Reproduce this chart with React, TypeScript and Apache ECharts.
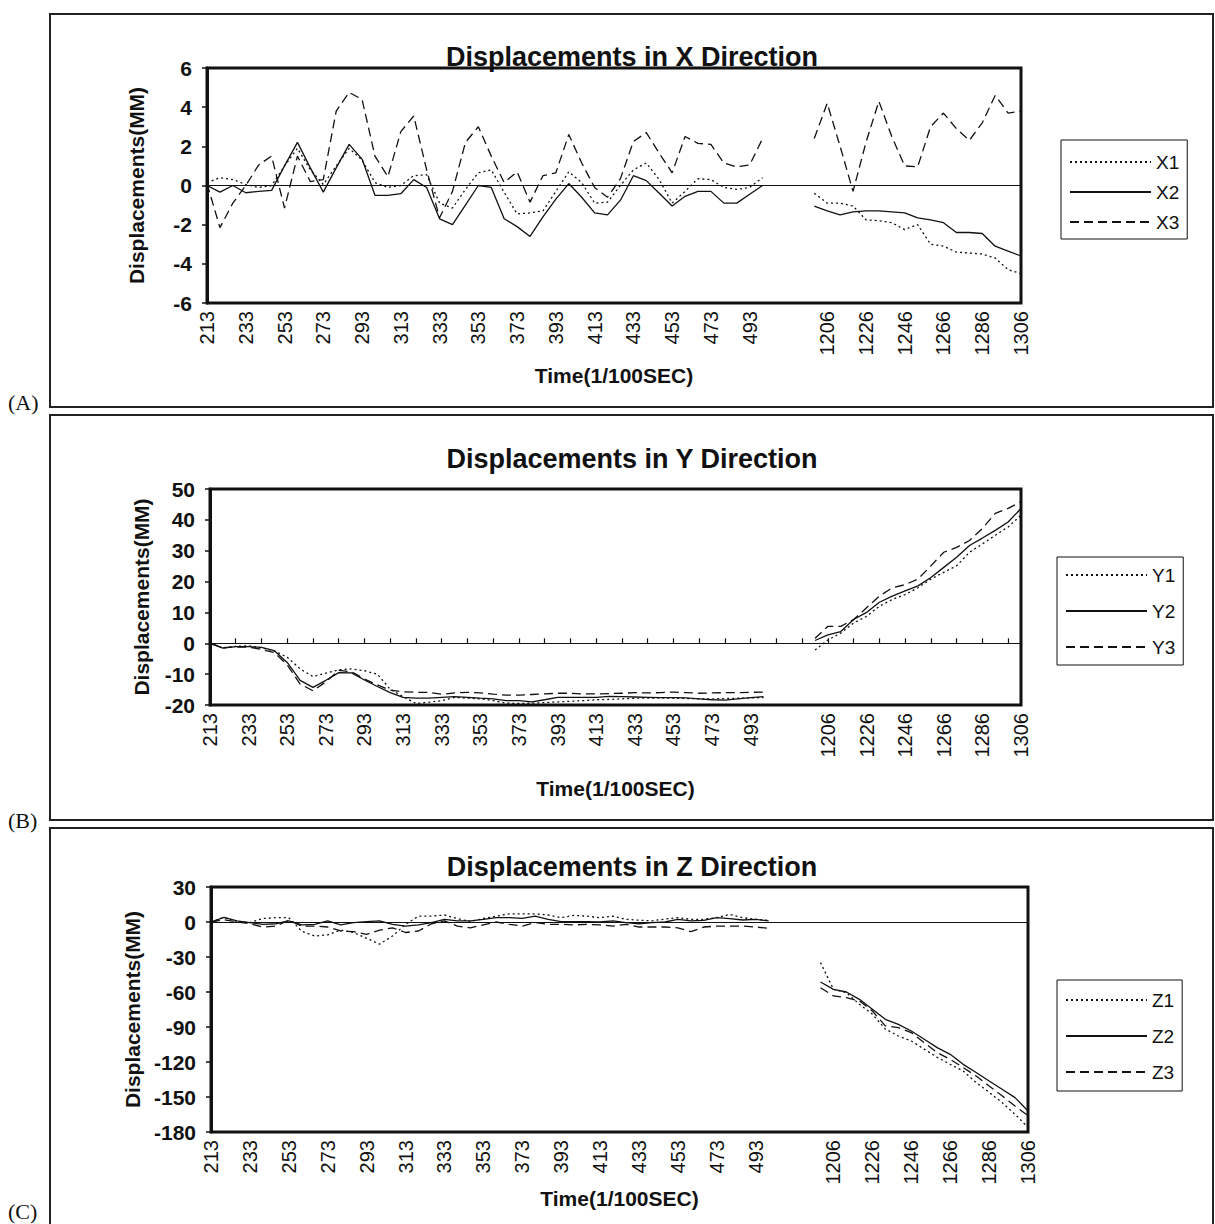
import React, { useEffect, useRef } from 'react';
import * as echarts from 'echarts';

const FONT = '"Liberation Sans", Arial, Helvetica, sans-serif';
const INK = '#111';

// Category axis (time, 1/100 s). Labels shown on every 3rd category.
const TIME_LEFT = ['213', '220', '226', '233', '240', '246', '253', '260', '266', '273', '280', '286', '293', '300', '306', '313', '320', '326', '333', '340', '346', '353', '360', '366', '373', '380', '386', '393', '400', '406', '413', '420', '426', '433', '440', '446', '453', '460', '466', '473', '480', '486', '493', '500'];
const TIME_GAP = ['', '', ''];
const TIME_RIGHT = ['1200', '1206', '1213', '1220', '1226', '1233', '1240', '1246', '1253', '1260', '1266', '1273', '1280', '1286', '1293', '1300', '1306'];

// X direction
const X1_LEFT = [0.15, 0.4, 0.3, 0.05, -0.1, 0.0, 1.0, 1.9, 0.8, 0.05, 1.0, 1.9, 1.3, 0.15, -0.1, 0.0, 0.5, 0.55, -0.9, -1.15, -0.2, 0.65, 0.8, -0.35, -1.45, -1.4, -1.3, -0.3, 0.7, 0.15, -0.9, -0.85, 0.0, 0.8, 1.15, 0.3, -0.9, -0.3, 0.35, 0.3, -0.1, -0.2, -0.1, 0.4];
const X2_LEFT = [0, -0.34, 0, -0.37, -0.3, -0.25, 1.0, 2.2, 0.9, -0.34, 0.9, 2.1, 1.35, -0.5, -0.5, -0.42, 0.3, -0.1, -1.7, -2.0, -1.0, 0.0, -0.1, -1.7, -2.1, -2.6, -1.6, -0.7, 0.1, -0.6, -1.4, -1.5, -0.75, 0.5, 0.25, -0.4, -1.05, -0.55, -0.3, -0.3, -0.9, -0.9, -0.45, 0.0];
const X3_LEFT = [0.1, -2.15, -0.9, 0.0, 1.05, 1.5, -1.15, 1.5, 0.2, 0.3, 3.8, 4.75, 4.4, 1.5, 0.45, 2.75, 3.55, 0.8, -1.65, -0.3, 2.2, 3.0, 1.5, 0.15, 0.7, -0.85, 0.5, 0.65, 2.6, 1.15, -0.1, -0.6, 0.35, 2.25, 2.7, 1.65, 0.65, 2.5, 2.15, 2.1, 1.15, 0.95, 1.05, 2.4];
const X1_RIGHT = [-0.4, -0.9, -0.9, -1.05, -1.75, -1.8, -1.9, -2.25, -2.0, -3.0, -3.1, -3.4, -3.45, -3.5, -3.7, -4.3, -4.5];
const X2_RIGHT = [-1.05, -1.3, -1.5, -1.35, -1.3, -1.3, -1.35, -1.4, -1.65, -1.75, -1.9, -2.4, -2.4, -2.45, -3.1, -3.35, -3.6];
const X3_RIGHT = [2.4, 4.2, 2.0, -0.3, 2.2, 4.3, 2.5, 1.0, 0.95, 3.0, 3.7, 2.9, 2.3, 3.2, 4.6, 3.7, 3.8];

// Y direction
const Y1_LEFT = [0, -1.5, -1, -0.8, -1.5, -2.5, -4.5, -8.3, -10.8, -9.7, -8.6, -8.3, -8.9, -10, -14.9, -17.3, -19.5, -19.1, -18.6, -17.5, -17.8, -18, -18.6, -19.4, -19.5, -19.4, -19.2, -19, -18.8, -18.6, -18.3, -18.2, -18.0, -17.8, -17.8, -17.7, -17.8, -17.9, -18.0, -18.0, -17.9, -17.8, -17.7, -17.6];
const Y2_LEFT = [0, -1.6, -1.1, -1.1, -1.3, -2.4, -6.2, -12, -14.3, -12, -9.5, -9.6, -11.9, -14, -16, -17.5, -17.8, -17.8, -17.5, -17.3, -17.5, -17.8, -18, -18.6, -18.6, -19, -18.3, -17.5, -17.5, -17.5, -17.5, -17.2, -17.3, -17.4, -17.5, -17.6, -17.6, -17.7, -18.0, -18.3, -18.4, -18.0, -17.6, -17.3];
const Y3_LEFT = [0, -1.4, -1.2, -1.2, -2, -3, -7, -13.2, -15.4, -12.5, -8.8, -9.2, -11.6, -13.5, -15.2, -15.7, -15.9, -15.9, -16.5, -16.1, -15.9, -16.1, -16.5, -16.8, -16.8, -16.6, -16.4, -16.2, -16.2, -16.4, -16.4, -16.3, -16.2, -16.0, -16.1, -16.0, -15.8, -16.0, -16.2, -16.1, -16.0, -16.0, -15.9, -15.8];
const Y1_RIGHT = [-2.2, 1.1, 3.3, 6.6, 8.7, 12, 14.2, 15.8, 18, 20.8, 23, 25.1, 29.5, 32.2, 35, 37.7, 41.5];
const Y2_RIGHT = [0.9, 2.7, 3.8, 7.7, 10, 13.3, 15.3, 17, 18.6, 21.3, 24.6, 27.9, 31.7, 34.1, 36.6, 39.3, 43.7];
const Y3_RIGHT = [1.6, 5.5, 5.5, 7.7, 11.5, 15.3, 18, 19, 20.8, 25.1, 29.5, 31.1, 33.3, 37.2, 42.1, 43.7, 45.9];

// Z direction
const Z1_LEFT = [0, 4, 0.3, -0.5, 3, 3.7, 3.7, -8, -12, -11, -7, -9, -14, -19, -12, -2, 5, 5, 6, 3, 0.3, 3, 5, 7, 7, 7, 6, 3.7, 5.7, 5, 3.7, 5, 2.3, 1.5, 1.0, 2.5, 3.7, 2.3, 2.3, 3.7, 6.6, 3.7, 2.3, 1.4];
const Z2_LEFT = [0, 4, 1, -0.5, -2, -1.5, 1, -2.5, -2, 1, -2.5, -0.5, 0.3, 1, -2, -3.5, -2.5, -0.5, 2.3, 1, 1, 2.3, 3.7, 3.7, 3.1, 5.1, 2.3, 0.3, 0.3, 0.3, 0, 1, -0.5, -1.5, -0.5, 0, 2.3, 1, 1.4, 3.7, 2.9, 1.7, 2.3, 1];
const Z3_LEFT = [0, 2, 0, -1.5, -4.3, -3.5, 1.5, -3.5, -3.5, -4.3, -7.7, -8.3, -10.6, -7, -5, -9, -7.7, -1.5, 1, -3.5, -5, -2.5, 0, -2, -3.5, -0.5, -2, -2, -2.5, -2, -2.5, -3.5, -2, -4.3, -4.3, -4.3, -5, -8.3, -4.3, -3.5, -3.5, -3.5, -4.3, -5.4];
const Z1_RIGHT = [-34.8, -57.7, -60.6, -70.5, -79, -91.7, -97.7, -102, -109, -116, -122, -127.7, -137.6, -146, -154.8, -164.8, -176];
const Z2_RIGHT = [-51.4, -57.7, -60, -66.3, -74.8, -83.4, -87.7, -93.4, -100.5, -107.7, -113.4, -122, -129, -136.3, -143.4, -150.5, -162];
const Z3_RIGHT = [-56.3, -63.4, -64.8, -67.7, -76.3, -89, -90.5, -94.8, -103.4, -112, -117.7, -124.8, -132, -140.6, -149, -157.7, -166];

const CATEGORIES = [...TIME_LEFT, ...TIME_GAP, ...TIME_RIGHT];
const GAP_NULLS = TIME_GAP.map(() => null);
const join = (l: number[], r: number[]) => [...l, ...GAP_NULLS, ...r];

const DOTTED: any = [2, 3];
const DASHED: any = [9, 5];

type Panel = {
  title: string;
  titleTop: number;
  grid: { left: number; top: number; width: number; height: number };
  y: { min: number; max: number; interval: number };
  yNameGap: number;
  xNameGap: number;
  zeroTicks: boolean;
  names: string[];
  data: (number | null)[][];
  legend: { left: number; top: number; gap: number; padding: number[] };
};

const PANELS: Panel[] = [
  {
    title: 'Displacements in X Direction',
    titleTop: 43,
    grid: { left: 207, top: 68, width: 814, height: 235 },
    y: { min: -6, max: 6, interval: 2 },
    yNameGap: 60,
    xNameGap: 62,
    zeroTicks: false,
    names: ['X1', 'X2', 'X3'],
    data: [join(X1_LEFT, X1_RIGHT), join(X2_LEFT, X2_RIGHT), join(X3_LEFT, X3_RIGHT)],
    legend: { left: 1061, top: 140, gap: 10, padding: [12, 8, 7, 8] },
  },
  {
    title: 'Displacements in Y Direction',
    titleTop: 445,
    grid: { left: 210, top: 489, width: 811, height: 216 },
    y: { min: -20, max: 50, interval: 10 },
    yNameGap: 58,
    xNameGap: 73,
    zeroTicks: true,
    names: ['Y1', 'Y2', 'Y3'],
    data: [join(Y1_LEFT, Y1_RIGHT), join(Y2_LEFT, Y2_RIGHT), join(Y3_LEFT, Y3_RIGHT)],
    legend: { left: 1057, top: 557, gap: 16, padding: [8, 8, 8, 8] },
  },
  {
    title: 'Displacements in Z Direction',
    titleTop: 853,
    grid: { left: 211, top: 887, width: 817, height: 245 },
    y: { min: -180, max: 30, interval: 30 },
    yNameGap: 62,
    xNameGap: 53,
    zeroTicks: false,
    names: ['Z1', 'Z2', 'Z3'],
    data: [join(Z1_LEFT, Z1_RIGHT), join(Z2_LEFT, Z2_RIGHT), join(Z3_LEFT, Z3_RIGHT)],
    legend: { left: 1057, top: 980, gap: 16, padding: [10, 8, 9, 8] },
  },
];

const DASHES = [DOTTED, 'solid', DASHED];

function buildOption() {
  const title: any[] = [];
  const grid: any[] = [];
  const xAxis: any[] = [];
  const yAxis: any[] = [];
  const series: any[] = [];
  const legend: any[] = [];

  PANELS.forEach((p, i) => {
    title.push({
      text: p.title,
      left: 632,
      top: p.titleTop,
      textAlign: 'center',
      padding: 0,
      textStyle: { fontFamily: FONT, fontSize: 27, fontWeight: 'bold', color: INK },
    });
    grid.push({
      ...p.grid,
      show: true,
      borderColor: INK,
      borderWidth: 3,
      backgroundColor: 'transparent',
      containLabel: false,
    });
    // main category axis at the bottom (labels)
    xAxis.push({
      type: 'category',
      gridIndex: i,
      data: CATEGORIES,
      boundaryGap: false,
      position: 'bottom',
      axisLine: { show: false, onZero: false },
      axisTick: { show: false },
      splitLine: { show: false },
      axisLabel: {
        interval: 2,
        rotate: 90,
        margin: 8,
        fontFamily: FONT,
        fontSize: 20,
        color: INK,
      },
      name: 'Time(1/100SEC)',
      nameLocation: 'middle',
      nameGap: p.xNameGap,
      nameTextStyle: { fontFamily: FONT, fontSize: 21, fontWeight: 'bold', color: INK },
    });
    // zero line axis
    xAxis.push({
      type: 'category',
      gridIndex: i,
      data: CATEGORIES,
      boundaryGap: false,
      position: 'top',
      axisLine: { show: true, onZero: true, lineStyle: { color: INK, width: 1.2 } },
      axisTick: {
        show: p.zeroTicks,
        interval: 1,
        length: 5,
        lineStyle: { color: INK, width: 1.2 },
      },
      axisLabel: { show: false },
      splitLine: { show: false },
    });
    yAxis.push({
      type: 'value',
      gridIndex: i,
      min: p.y.min,
      max: p.y.max,
      interval: p.y.interval,
      axisLine: { show: true, onZero: false, lineStyle: { color: INK, width: 3 } },
      axisTick: { show: true, length: 5, lineStyle: { color: INK, width: 1.5 } },
      splitLine: { show: false },
      axisLabel: {
        margin: 15,
        fontFamily: FONT,
        fontSize: 21,
        fontWeight: 'bold',
        color: INK,
      },
      name: 'Displacements(MM)',
      nameLocation: 'middle',
      nameGap: p.yNameGap,
      nameTextStyle: { fontFamily: FONT, fontSize: 21, fontWeight: 'bold', color: INK },
    });
    p.names.forEach((name, k) => {
      series.push({
        type: 'line',
        name,
        xAxisIndex: i * 2,
        yAxisIndex: i,
        data: p.data[k],
        symbol: 'none',
        showSymbol: false,
        connectNulls: false,
        color: INK,
        lineStyle: { color: INK, width: 1.3, type: DASHES[k] },
      });
    });
    legend.push({
      orient: 'vertical',
      left: p.legend.left,
      top: p.legend.top,
      data: p.names,
      itemWidth: 81,
      itemHeight: 10,
      itemGap: p.legend.gap,
      padding: p.legend.padding,
      borderColor: INK,
      borderWidth: 1,
      selectedMode: false,
      itemStyle: { opacity: 0 },
      textStyle: { fontFamily: FONT, fontSize: 19, lineHeight: 20, color: INK },
    });
  });

  const frames = [
    { y: 14, h: 393, label: '(A)', ly: 402 },
    { y: 415, h: 405, label: '(B)', ly: 820 },
    { y: 828, h: 420, label: '(C)', ly: 1211 },
  ];
  const graphic: any[] = [];
  frames.forEach((f) => {
    graphic.push({
      type: 'rect',
      shape: { x: 50, y: f.y, width: 1163, height: f.h },
      style: { fill: 'none', stroke: '#222', lineWidth: 2 },
      silent: true,
    });
    graphic.push({
      type: 'text',
      x: 8,
      y: f.ly,
      style: {
        text: f.label,
        fill: INK,
        font: '22px "Liberation Serif", "Times New Roman", serif',
        verticalAlign: 'middle',
      },
      silent: true,
    });
  });

  return {
    animation: false,
    backgroundColor: '#fff',
    title,
    grid,
    xAxis,
    yAxis,
    series,
    legend,
    graphic,
  };
}

export default function App() {
  const ref = useRef<HTMLDivElement>(null);
  useEffect(() => {
    if (!ref.current) return;
    const chart = echarts.init(ref.current, null, { renderer: 'svg' });
    chart.setOption(buildOption() as any);
    return () => chart.dispose();
  }, []);
  return (
    <div
      ref={ref}
      style={{ position: 'absolute', left: 0, top: 0, width: 1215, height: 1224, background: '#fff' }}
    />
  );
}
